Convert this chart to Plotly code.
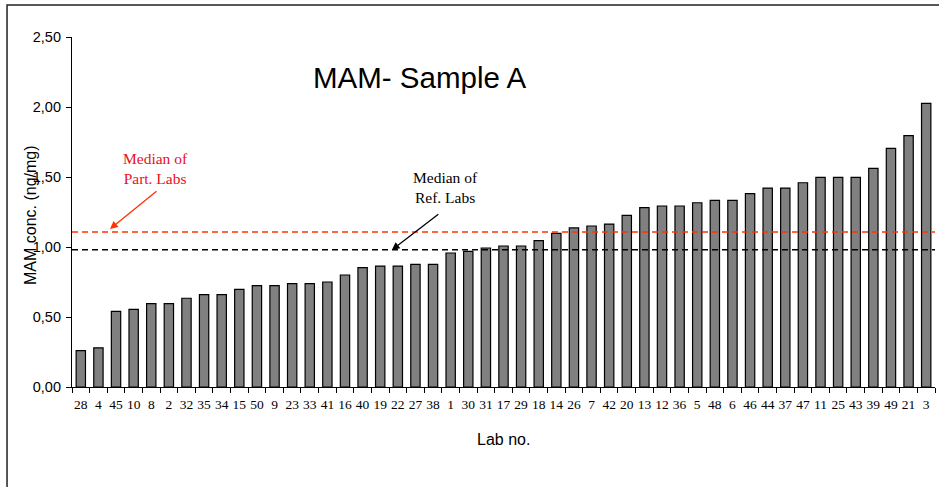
import plotly.graph_objects as go

labs = ["28", "4", "45", "10", "8", "2", "32", "35", "34", "15", "50", "9", "23", "33", "41", "16",
        "40", "19", "22", "27", "38", "1", "30", "31", "17", "29", "18", "14", "26", "7", "42", "20",
        "13", "12", "36", "5", "48", "6", "46", "44", "37", "47", "11", "25", "43", "39", "49", "21", "3"]
values = [0.26, 0.28, 0.54, 0.555, 0.595, 0.595, 0.634, 0.66, 0.66, 0.698, 0.724, 0.724, 0.738, 0.738,
          0.75, 0.80, 0.852, 0.864, 0.864, 0.876, 0.876, 0.957, 0.969, 0.993, 1.007, 1.007, 1.045,
          1.098, 1.136, 1.15, 1.164, 1.226, 1.281, 1.293, 1.293, 1.316, 1.333, 1.333, 1.381, 1.421,
          1.421, 1.459, 1.498, 1.498, 1.498, 1.562, 1.705, 1.795, 2.026]
median_part = 1.107
median_ref = 0.981
y_ticks = [0, 0.5, 1.0, 1.5, 2.0, 2.5]

W, H = 939, 487
L, R, T, B = 72, 3.5, 37, 100
pw = W - L - R
ph = H - T - B


def px2x(px):
    return (px - L) / pw


def px2y(py):
    return (H - B - py) / ph


fig = go.Figure()
fig.add_trace(go.Bar(
    x=labs, y=values,
    marker=dict(color="#808080", line=dict(color="#000000", width=1.2)),
    showlegend=False,
))

red = "#FF3300"
fig.add_shape(type="line", xref="paper", yref="y", x0=0, x1=1, y0=median_part, y1=median_part,
              line=dict(color=red, width=1.5, dash="6px,4px"))
fig.add_shape(type="line", xref="paper", yref="y", x0=0, x1=1, y0=median_ref, y1=median_ref,
              line=dict(color="#000000", width=1.5, dash="6px,4px"))

# outer frame
fig.add_shape(type="rect", xref="paper", yref="paper",
              x0=px2x(7), x1=px2x(960), y0=px2y(520), y1=px2y(5),
              line=dict(color="#222222", width=1.5), layer="below")

serif = "Liberation Serif, Times New Roman, serif"
sans = "Liberation Sans, Arial, sans-serif"

annotations = [
    dict(text="MAM- Sample A", xref="paper", yref="paper", x=px2x(420), y=px2y(77),
         showarrow=False, font=dict(family=sans, size=29.5, color="#000"), xanchor="center", yanchor="middle"),
    dict(text="Lab no.", xref="paper", yref="paper", x=px2x(504), y=px2y(439),
         showarrow=False, font=dict(family=sans, size=16, color="#000"), xanchor="center", yanchor="middle"),
    dict(text="MAM conc. (ng/mg)", xref="paper", yref="paper", x=px2x(30), y=px2y(215),
         showarrow=False, textangle=-90, font=dict(family=sans, size=16, color="#000"),
         xanchor="center", yanchor="middle"),
    dict(text="Median of<br>Part. Labs", xref="paper", yref="paper", x=px2x(156), y=px2y(168),
         showarrow=False, align="center", font=dict(family=serif, size=15.5, color="#E8101A"),
         xanchor="center", yanchor="middle"),
    dict(text="Median of<br>Ref. Labs", xref="paper", yref="paper", x=px2x(446), y=px2y(187),
         showarrow=False, align="center", font=dict(family=serif, size=15.5, color="#000"),
         xanchor="center", yanchor="middle"),
    dict(text="", xref="paper", yref="paper", x=px2x(110), y=px2y(229), ax=48, ay=-39,
         showarrow=True, arrowhead=2, arrowsize=1.2, arrowwidth=1.3, arrowcolor=red),
    dict(text="", xref="paper", yref="paper", x=px2x(392), y=px2y(250), ax=48, ay=-37,
         showarrow=True, arrowhead=2, arrowsize=1.2, arrowwidth=1.3, arrowcolor="#000"),
]

fig.update_layout(
    width=W, height=H, autosize=False,
    margin=dict(l=L, r=R, t=T, b=B, pad=0),
    paper_bgcolor="white", plot_bgcolor="white",
    separators=",.",
    bargap=0.47,
    annotations=annotations,
    xaxis=dict(type="category", showline=True, linecolor="#000", linewidth=1.2,
               ticks="outside", ticklen=5, tickcolor="#000", tickson="boundaries",
               ticklabelstandoff=5,
               tickfont=dict(family=serif, size=13.5, color="#000"), showgrid=False,
               tickangle=0),
    yaxis=dict(range=[0, 2.5], showline=True, linecolor="#000", linewidth=1.2,
               ticks="outside", ticklen=5, tickcolor="#000", tickvals=y_ticks,
               tickformat=".2f", showgrid=False, zeroline=False, ticklabelstandoff=2,
               tickfont=dict(family=sans, size=14.5, color="#000")),
)

fig.write_html("out.html", config={"displayModeBar": False},
               post_script="document.body.style.margin='0';document.body.style.overflow='hidden';")
